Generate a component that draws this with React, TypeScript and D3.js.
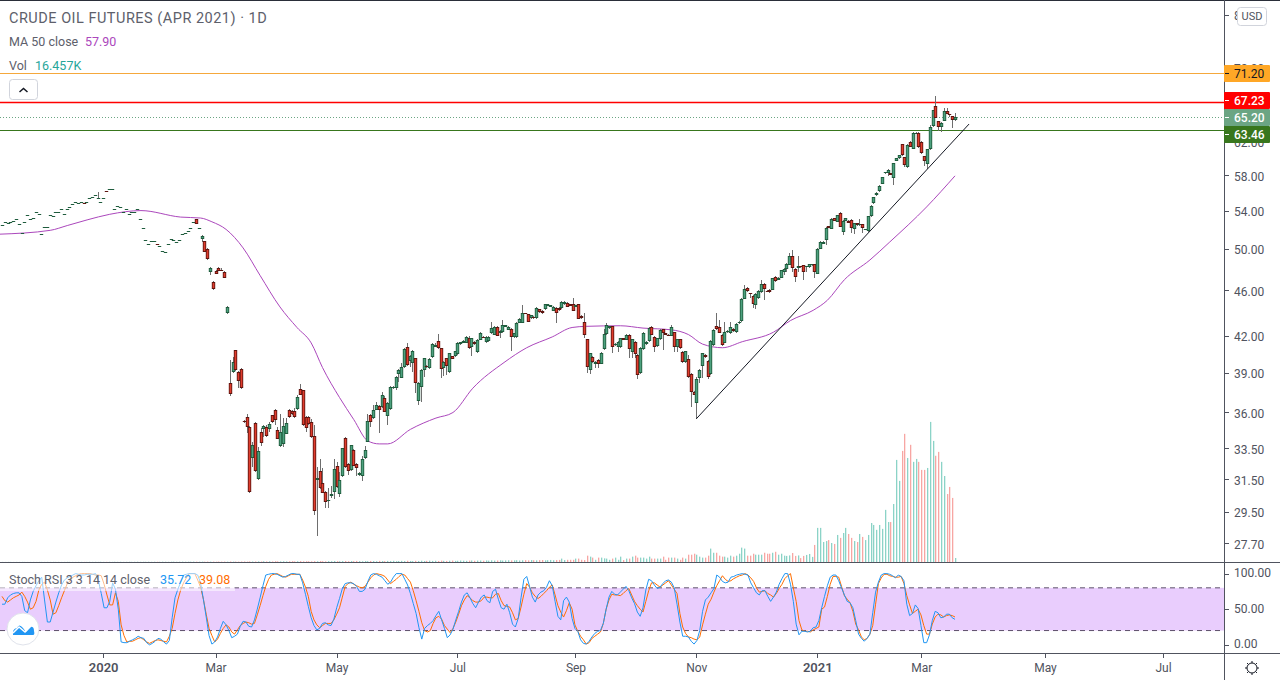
import React, { useRef, useEffect } from 'react';
import * as d3 from 'd3';

// daily candles, Apr 2021 crude contract
const opens = [
  52.45,52.75,52.65,52.75,52.9,53.1,52.55,51.65,52.75,53.55,
  53.1,53.2,53.8,53.65,51.5,52.25,52.25,53.55,53.45,53.8,
  53.8,54.2,53.65,54.15,54.35,54.7,54.9,54.8,54.9,54.85,
  54.9,55.35,55.45,55.7,55.35,54.9,55.35,56.2,56.4,56.4,
  54.2,54.55,54.35,53.8,54.15,53.65,53.9,53.9,54.2,53.1,
  52.1,50.9,50.5,50.8,50.8,50.45,50.3,49.8,49.7,50.5,
  51,50.9,50.7,50.9,51.5,51.65,51.85,52.15,52.75,53.1,
  52.15,51,50.8,50,47.75,46.75,47.85,48.1,47.95,47.75,
  43.95,38.2,39.05,40.8,39.05,39.3,35.4,35.7,35,32.85,
  35.25,31.5,34.6,34.85,35,34.85,35.8,36.2,34.75,33.65,
  33.8,34.5,36.2,36.1,36.1,36.25,37.75,37.65,35.7,35.7,
  35.35,34.35,31.45,32,31.25,30.7,30.15,30.45,30.7,32.35,
  30.55,31.7,34.2,32.45,32.05,33.4,32.45,31.75,31.7,32.85,
  33.95,35.85,35.6,36.2,36.5,36.4,37.05,35.75,36.25,37.8,
  37.85,38.9,38.6,39.45,41.05,39.9,39.75,40.15,36.85,37.9,
  39.2,39.55,39.35,40.25,41.1,41.55,40.95,39.35,40.15,39.05,
  40.3,40.3,40.45,41.3,41.4,41.4,41.85,41.05,41.5,40.65,
  41.65,41.9,41.45,41.55,42.2,42.1,42.75,42.2,42.3,42.75,
  42.5,42.6,41.9,41.9,43.1,43.1,43.95,43.85,43.5,43.65,
  43.5,44.3,44.15,44.3,44.6,44.5,44.15,44.4,44.4,44.4,
  44.75,44.85,44.75,44.75,44.5,44.75,43.7,43.2,41.7,39.2,
  40.25,39.7,40,39.7,40.9,42.15,42.65,42.8,41.2,41.05,
  41.05,41.8,41.65,42.1,40.65,41.5,40.4,38.95,40.9,41.3,
  41.55,42.75,41.9,41.15,41.7,42.55,42.2,42.1,42,42.3,
  41.05,41.7,40.65,39.85,40.1,38.9,37.5,36.7,38.6,39.5,
  40.4,39.95,38.9,41.2,42.85,42.75,42.1,41.4,42.3,42.2,
  42.6,42.3,43.05,43.25,45.25,46.25,45.75,45.5,44.7,45.3,
  45.85,46.6,45.95,46.05,46.05,47.3,47,47.2,47.75,48.05,
  48.45,49.3,48.05,48.15,48.3,48.4,48.2,48.2,48.4,48.5,
  47.55,50,50.5,50.9,52.35,52.05,53.2,52.8,53.7,51.7,
  52.9,52.9,53,52.05,52.65,52.45,52.55,51.95,51.8,53.4,
  54.8,55.7,56.15,57,58.2,58.2,58.2,57.65,59.65,60,
  61.7,60.1,58.95,62,61.15,63,63.15,62,60.25,59.3,
  61.05,64.05,66.65,64.65,63.85,64.65,65.95,65.55,65.3,64.75,
];
const closes = [
  52.45,52.75,52.65,52.75,52.9,53.1,52.55,51.65,52.75,53.55,
  53.1,53.2,53.8,53.65,51.5,52.25,52.25,53.55,53.45,53.8,
  53.8,54.2,53.65,54.15,54.35,54.7,54.9,54.8,54.9,54.8,
  54.9,55.35,55.45,55.7,55.35,54.9,55.35,56.15,56.4,56.4,
  54.2,54.55,54.35,53.8,54.15,53.65,53.9,53.9,54.2,53.1,
  52.1,50.9,50.5,50.8,50.8,50.4,50.3,49.8,49.7,50.5,
  51,50.9,50.7,50.9,51.5,51.65,51.85,52.15,52.75,52.55,
  52.15,51.3,49.7,49,48.1,46.15,47.55,47.85,47.85,47.2,
  44.5,37.35,39.85,39.2,38.35,37.8,35.3,35,30.7,33.75,
  32,33.3,33.85,35.05,34.35,35.2,35.3,35.45,34.15,34.6,
  35.05,35.25,35.65,35.9,35.65,37.15,37.3,35.1,34.9,35.15,
  34.25,29.55,31.55,30.95,30.65,30.05,30.2,30.55,32.15,31,
  31.45,33.5,32.25,32,33.7,32.35,32.2,31.9,32.8,33.4,
  35.4,35.3,36.2,36.55,36.2,37.3,36.05,36.7,37.9,37.9,
  38.65,39.2,39.45,40.9,39.6,40.35,40.75,38.2,38.2,39.2,
  40.15,39.45,40.1,41.3,41.2,40.95,39.3,39.85,39.55,40.55,
  40.1,40.7,41.4,41.45,41.55,41.9,40.95,41.8,41.3,41.65,
  42.25,41.85,41.9,41.9,42.65,42.75,42,42.4,42.9,42.9,
  42.75,41.9,42.2,43.1,43.45,43.95,43.9,43.2,43.75,43.5,
  44.4,44.05,43.95,44.75,44.75,44.65,44.5,43.95,44.2,44.95,
  44.95,44.5,44.6,44.15,44.65,43.45,43.5,42.1,39.45,40.55,
  39.85,39.85,39.7,40.6,42.15,42.9,42.8,41.05,41.3,41.5,
  41.8,41.65,42.1,40.9,41.7,40.45,38.8,41,42.25,41.5,
  42.65,42.1,41.05,41.8,42.5,42.25,42.1,42,42.75,41.05,
  41.7,40.95,39.85,40.7,38.65,37.5,37.3,38.5,39.2,40.55,
  40.25,38.65,41.55,42.5,42.55,42.25,41.2,42.35,42.4,42.75,
  42.4,43,43.2,45.25,46.15,45.95,45.7,44.8,45.7,45.95,
  46.6,46.1,45.9,45.85,47.15,46.85,47.2,47.9,48.05,48.55,
  49.25,48.1,47.3,48.3,48.2,47.75,48.3,48.5,48.5,47.75,
  50,50.7,50.7,52.15,52.15,53.1,52.9,53.5,52.25,52.9,
  53.2,52.7,52.15,52.65,52.45,52.55,52.15,52,53.4,54.55,
  55.45,55.95,56.75,57.75,58.35,58.6,58,59.4,60,60.35,
  60.35,59.15,61.65,61.4,63.15,63.15,61.3,60.6,59.65,61.05,
  63.85,66.1,65.05,63.9,64.4,65.95,65.55,65.5,64.8,65.2,
];
const highs = [
  52.45,52.75,52.65,52.75,52.9,53.1,52.55,51.65,52.75,53.55,
  53.1,53.2,53.8,53.65,51.5,52.25,52.25,53.55,53.45,53.8,
  53.8,54.2,53.65,54.15,54.35,54.7,54.9,54.8,54.9,54.85,
  54.9,55.35,55.45,55.7,56.05,54.9,55.35,56.2,56.4,56.4,
  54.2,54.55,54.35,53.8,54.15,53.65,53.9,53.9,54.2,53.1,
  52.1,50.9,50.5,50.8,50.8,50.45,50.3,49.8,49.7,50.5,
  51,50.9,50.7,50.9,51.5,51.65,51.85,52.15,52.75,53.1,
  52.15,51.4,50.85,50.05,48.25,46.85,47.95,48.2,48.1,47.8,
  44.6,40,40.25,40.85,39.1,39.35,35.45,35.9,35.05,33.9,
  35.3,33.6,34.9,35.1,35.1,35.35,35.85,36.25,35,35.9,
  35.6,35.6,36.25,36.15,36.35,37.3,38.1,37.7,35.75,35.75,
  35.5,35.1,32.25,32.8,32.2,30.75,30.95,31.05,32.8,32.6,
  31.95,33.55,34.25,32.5,33.75,33.45,32.5,31.95,33,33.65,
  35.9,35.9,36.55,36.8,36.55,37.5,37.2,36.75,37.95,37.95,
  38.7,39.25,39.75,40.95,41.4,40.4,40.8,40.2,38.25,39.25,
  40.2,39.6,40.15,41.35,41.4,42.15,41,39.9,40.2,40.6,
  40.35,40.75,41.45,41.5,41.6,41.95,42,41.85,41.55,41.7,
  42.3,41.95,41.95,41.95,43.2,42.8,42.8,42.45,43.35,42.95,
  42.8,42.65,42.25,43.15,43.5,44.65,44,43.9,43.8,43.7,
  44.45,44.35,44.2,44.8,44.8,44.7,44.55,44.45,44.45,45,
  45,44.9,44.8,45.3,44.7,44.8,43.75,43.95,41.75,40.6,
  40.3,39.9,40.05,40.65,42.55,43.1,42.85,42.85,41.35,41.55,
  41.85,41.85,42.15,42.15,41.75,41.55,40.45,41.05,42.3,41.55,
  42.7,42.8,41.95,41.85,42.55,42.6,42.25,42.15,42.9,42.35,
  41.75,41.75,40.7,40.75,40.4,38.95,37.55,38.65,39.25,40.6,
  40.45,40,41.6,42.55,43.95,43.35,42.15,43.2,42.45,43.2,
  42.65,43.05,43.25,45.3,46.5,46.3,45.8,45.55,45.75,46,
  47,46.65,46,46.1,47.2,47.35,47.25,47.95,48.1,48.6,
  49.6,49.9,48.1,49.3,48.35,48.45,48.35,48.55,48.55,48.55,
  50.05,50.75,50.75,52.2,52.4,53.15,53.25,53.55,53.9,52.95,
  53.25,52.95,53.05,52.7,52.7,53.1,52.6,52.05,53.45,54.6,
  55.5,56,56.8,57.8,58.4,58.65,58.25,59.45,60.05,60.4,
  61.75,60.15,61.7,62.05,63.2,63.2,63.25,62.05,60.3,61.1,
  64.1,66.15,68,64.7,64.45,66.3,66.4,65.6,65.35,65.7,
];
const lows = [
  52.45,52.75,52.65,52.75,52.9,53.1,52.55,51.65,52.75,53.55,
  53.1,53.2,53.8,53.65,51.5,52.25,52.25,53.55,53.45,53.8,
  53.8,54.2,53.65,54.15,54.35,54.7,54.9,54.8,54.9,54.8,
  54.9,55.35,55.45,55.7,55.35,54.9,55.35,56.15,56.4,56.4,
  54.2,54.55,54.35,53.8,54.15,53.65,53.9,53.9,54.2,53.1,
  52.1,50.9,50.5,50.8,50.8,50.4,50.3,49.8,49.7,50.5,
  51,50.9,50.7,50.9,51.5,51.65,51.85,52.15,52.75,52.55,
  52.15,50.7,49.65,48.9,47.4,46,47.5,47.8,47.8,47.15,
  43.9,37.2,39,39.15,37.8,37.75,35.25,34.55,30.65,32.25,
  31.95,31.45,33.65,34.3,34.3,34.6,35.25,35.1,34.1,33.6,
  33.6,34.45,35.6,35.85,35.6,36.2,37.25,35.05,34.6,35.1,
  34.2,29.3,28.1,30.9,30.6,29.7,29.7,30.3,30.25,30.95,
  30.4,31.65,32.2,31.75,32,32.3,31.7,31.7,31.4,32.8,
  33.9,35,35.55,36.15,34.55,36.35,36,35.1,36.2,37.75,
  37.7,38.3,38.55,39.4,39.55,39.45,39.05,37.45,36.55,36.8,
  38.65,39.4,39.3,40.2,41.05,40.9,38.6,38.75,38.8,39,
  40.05,40.25,40.4,41.25,41.35,41.35,40.9,40.3,41.25,40.6,
  41.6,41.8,41.4,41.5,42.15,42.05,41.95,41.8,42.25,42.7,
  42.45,40.7,41.85,41.85,43.05,43.05,43.85,43.15,43.45,43.45,
  43.45,44,43.9,44.25,44.55,44.45,44.1,43.1,44.15,44.35,
  44.7,44.45,44.55,44.1,44.45,43.4,43.45,41.85,38.95,38.9,
  39.8,39.4,39.35,39.65,40.85,42.1,42.6,40.55,41.15,40.65,
  41,41.6,41.6,40.15,40.15,40.15,38.5,38.9,40.85,41.25,
  41.5,42.05,40.65,41.1,41.65,40.8,42.05,41.95,41.95,40.65,
  40.65,40.9,39.8,39.8,38.6,36.4,37.25,35.55,38.2,38.6,
  40.2,38.5,38.85,41.15,42.5,42.2,41.15,41.35,42.25,42.15,
  42.35,42.25,43,43.2,45.2,45.9,45.3,44.4,44.3,45.25,
  45.8,45.1,45.85,45.8,46,46.8,46.95,47.15,47.4,47.7,
  48.4,47.75,46.75,47.75,48.15,46.95,47.75,48.15,48.35,47.2,
  47.5,49.95,50.45,50.4,52.1,52,52.85,52.75,52.2,51.4,
  52.85,52.65,51.6,51.5,52.4,52.4,51.6,51.9,51.75,53.35,
  54.75,55.65,56.1,56.95,58.15,57.9,57.95,56.9,59.6,59.95,
  60.3,58.9,58.8,61.35,61.1,62.95,61.25,60.55,59,58.7,
  61,63.9,65,63.3,63.2,64.6,65.5,65.1,63.8,64.7,
];
// thousands of contracts
const volumes = [
  0.4,0.3,0.5,0.4,0.3,0.5,0.4,0.6,0.4,0.3,
  0.4,0.5,0.4,0.6,0.5,0.4,0.6,0.5,0.7,0.5,0.6,0.4,0.5,0.8,0.6,0.5,0.4,0.7,0.6,0.5,
  0.5,0.8,0.6,0.7,0.5,0.9,0.6,0.7,0.8,0.6,1,0.7,0.9,0.6,0.8,1,0.7,0.9,1.2,0.8,
  1,0.9,1.2,0.8,1.1,1,0.9,1.3,1.1,0.9,1.2,1.4,1,1.2,1.5,1.1,1.3,1.2,1.6,1.4,
  1.2,1.5,1.3,1.7,1.4,1.6,1.3,1.8,1.5,1.7,1.4,2,1.6,1.8,1.5,2,2.2,1.7,2.4,2,
  2.2,2.6,2.1,3,2.4,2.8,2.2,3.2,2.6,2.4,3,2.5,2.8,3.4,2.6,3,3.6,2.8,3.2,3,
  2.6,3.4,3,3.8,3.2,2.8,3.5,3.2,4,3.4,3,3.6,4.2,3.2,3.8,3.4,4.4,3.6,3,4,
  3.4,4.2,3.8,3.2,4.6,4,3.6,4.4,3.8,4.8,3.4,4,4.6,3.8,5,4.2,3.6,4.8,4.2,5.2,
  4,4.6,5.4,4.4,5,4.2,5.6,4.8,4.4,5.2,5.8,4.6,5,6,5.4,4.8,5.6,6.2,5,5.8,
  6,5.2,6.4,5.6,6.8,5.8,6.2,7,6,6.6,7.2,6.4,6.8,7.4,6.2,7,7.6,6.6,8,7.2,
  6.8,7.8,8.2,7,7.6,8.4,7.4,8,8.6,
  14,8,9,9,9,14,14,9,8,26,
  22,18,9,18,18,15,14,9,14,18,
  9,22,8,14,14,22,26,18,18,18,
  14,22,14,14,14,14,22,9,18,18,
  18,14,9,18,14,30,30,34,30,22,
  18,18,26,55,38,38,26,22,22,18,
  26,22,26,34,59,55,26,26,34,30,
  30,30,38,34,34,38,42,30,34,26,
  25,27,37,25,27,16,25,29,33,21,
  70,140,140,82,86,90,78,74,111,99,
  119,140,115,99,86,82,115,103,90,111,
  160,152,132,152,136,214,164,164,238,419,
  333,456,526,427,481,411,423,411,378,378,
  386,575,497,436,452,411,353,279,308,263,
  16.457,
];

const maBars = [-1,17,23,30,38,49,63,70,74,79,85,91,98,104,109,113,119,124,129,133,136,144,153,159,166,177,185,194,201,206,218,226,236,242,247,254,261,272,278,286,291,297,306,313,326,336];
const maValues = [51.5,51.9,52.4,53,53.6,54,53.3,53.2,52.8,52,50.1,47.4,44.5,42.7,41.4,39.4,37.1,35.5,34,33.8,33.8,34.8,35.6,36,37.8,39.8,41,41.9,42.7,42.8,42.85,42.65,42.5,42.1,41.3,41,41.5,42.3,43.3,44.2,45.1,47,48.9,50.7,54.4,57.9];

const stochK = [
  57,57,66,70,72,73,73,68,48,45,63,75,83,90,95,63,32,32,46,60,
  73,84,91,94,96,98,100,99,98,98,99,99,99,100,90,72,52,52,61,87,
  78,50,4,3,3,5,7,9,12,10,9,3,0,2,5,9,8,4,1,6,
  38,66,78,88,98,99,100,100,100,98,87,64,39,13,1,4,11,23,33,28,
  20,10,12,15,26,33,32,26,25,35,50,66,83,98,99,100,100,99,97,95,
  96,98,100,100,99,99,87,71,54,38,27,21,23,30,31,28,27,36,52,65,
  79,86,87,87,86,82,75,75,78,89,98,100,99,97,95,90,85,88,95,100,
  100,100,92,84,72,58,44,24,8,23,27,30,34,41,47,35,23,10,14,22,
  35,47,60,70,73,66,58,52,60,67,70,62,59,75,78,64,52,50,57,45,
  29,25,37,66,92,96,82,67,60,70,74,76,81,90,83,61,40,35,62,67,
  60,37,23,19,7,2,1,5,11,16,19,20,30,50,67,75,71,70,74,78,
  82,76,66,58,46,40,52,77,92,90,84,79,81,86,90,91,88,80,57,32,
  12,12,11,5,1,6,20,47,63,67,73,79,98,95,89,87,88,95,96,98,
  99,100,99,98,87,80,73,70,76,76,68,61,67,74,85,93,100,100,85,61,
  29,14,19,19,18,19,24,25,34,52,68,83,95,98,98,90,80,70,61,59,
  52,34,15,9,5,9,15,45,74,88,98,100,100,99,97,94,98,96,90,57,
  41,44,56,51,27,3,3,14,34,47,45,38,39,43,43,38,35.72,
];
const stochD = [
  68,62,60,63,66,68,70,74,68,60,50,52,61,77,85,88,77,63,43,45,
  55,66,76,86,90,95,97,99,100,100,100,100,99,98,98,97,85,70,56,56,
  73,61,28,13,4,5,5,7,9,10,7,4,2,4,6,7,6,5,4,12,
  23,44,63,77,87,94,100,100,100,91,81,64,43,23,13,4,8,16,23,28,
  25,18,15,21,27,30,32,31,29,30,42,55,69,82,92,98,99,100,98,96,
  95,97,99,99,99,99,91,81,68,47,35,28,24,27,30,30,30,35,43,52,
  67,82,86,88,85,83,81,80,82,88,94,98,100,99,98,96,91,86,89,92,
  96,99,98,93,88,76,62,47,31,20,18,20,30,38,40,36,27,22,17,23,
  32,43,55,63,69,66,62,60,60,62,67,67,66,66,71,72,62,55,54,53,
  45,35,37,53,71,86,81,73,68,65,68,72,76,81,84,70,55,46,39,48,
  59,50,28,19,12,7,1,3,9,12,15,18,30,50,63,71,70,70,69,72,
  76,79,70,61,55,50,46,61,76,87,87,84,81,84,87,90,84,78,72,44,
  25,16,11,10,8,7,11,28,43,57,64,74,83,90,97,92,89,90,93,95,
  97,98,100,98,94,89,80,74,75,76,72,70,67,72,79,85,93,97,100,80,
  61,34,21,19,19,18,21,23,25,50,53,68,85,96,96,95,82,69,64,59,
  47,29,21,11,7,9,15,27,57,86,94,99,99,97,96,95,95,96,86,69,
  56,44,47,50,42,27,15,15,29,39,43,42,39,41,42,41,39.08,
];

const priceTicks = [80, 72, 62, 58, 54, 50, 46, 42, 39, 36, 33.5, 31.5, 29.5, 27.7];
const stochTicks = [100, 50, 0];
const timeBars = [36, 76, 119, 162, 204, 247, 290, 327, 371, 413];
const timeLabels = ['2020', 'Mar', 'May', 'Jul', 'Sep', 'Nov', '2021', 'Mar', 'May', 'Jul'];
const trendBars = [247, 344];
const trendPrices = [35.55, 64.25];
const levels = [71.2, 67.23, 65.2, 63.46];
const levelColors = ['#f5a83c', '#ff0000', '#6ba583', '#38761d'];
const tagColors = ['#ffa726', '#ff0000', '#6ba583', '#38761d'];
const tagText = ['#131722', '#ffffff', '#ffffff', '#ffffff'];

const FONT = 'Roboto, sans-serif';
const AXIS = '#50535e';

const App: React.FC = () => {
  const ref = useRef<SVGSVGElement>(null);

  useEffect(() => {
    const svg = d3.select(ref.current);
    svg.selectAll('*').remove();

    const plotRight = 1224;
    const x = d3.scaleLinear().domain([0, opens.length - 1]).range([2, 955]);
    const lineX = d3.scaleLinear().domain([0, stochK.length - 1]).range([2, 955]);
    const y = d3.scaleLog().domain([27.7, 58]).range([543, 175]);
    const yVol = d3.scaleLinear().domain([0, 575]).range([562, 421.9]);
    const yStoch = d3.scaleLinear().domain([0, 100]).range([644.8, 573.6]);

    const bars = d3.range(opens.length);
    const levelY = (v: number) => Math.round(y(v) + 0.2) + 0.5;

    // level lines
    levels.forEach((v, i) => {
      svg.append('line')
        .attr('x1', 0).attr('x2', plotRight)
        .attr('y1', levelY(v)).attr('y2', levelY(v))
        .attr('stroke', levelColors[i])
        .attr('stroke-width', i === 1 ? 1.6 : 1)
        .attr('stroke-dasharray', i === 2 ? '1,2' : null);
    });

    // volume
    svg.append('g').selectAll('rect').data(bars).enter().append('rect')
      .attr('x', i => Math.round(x(i)))
      .attr('width', 1.3)
      .attr('y', i => yVol(volumes[i]))
      .attr('height', i => 562 - yVol(volumes[i]))
      .attr('fill', i => (closes[i] >= opens[i] ? '#8bd3c7' : '#f7a6a3'));

    // ma
    const maLine = d3.line<number>()
      .x(i => lineX(maBars[i]))
      .y(i => y(maValues[i]))
      .curve(d3.curveMonotoneX);
    svg.append('path').attr('d', maLine(d3.range(maBars.length)))
      .attr('fill', 'none').attr('stroke', '#ab47bc').attr('stroke-width', 1);

    // candles
    const candles = svg.append('g');
    bars.forEach(i => {
      const cx = Math.round(x(i));
      const up = closes[i] >= opens[i];
      const top = Math.round(y(Math.max(opens[i], closes[i])));
      const bottom = Math.round(y(Math.min(opens[i], closes[i])));
      const hi = Math.round(y(highs[i]));
      const lo = Math.round(y(lows[i]));
      if (lo > hi) {
        candles.append('rect').attr('x', cx).attr('width', 1)
          .attr('y', hi).attr('height', lo - hi).attr('fill', '#6e6e6e');
      }
      const h = Math.max(1, bottom - top);
      candles.append('rect').attr('x', cx - 1.2).attr('width', 3.4)
        .attr('y', top).attr('height', h)
        .attr('fill', up ? '#1f5c3d' : '#5e1510');
      if (h > 2) {
        candles.append('rect').attr('x', cx - 0.35).attr('width', 1.7)
          .attr('y', top + 1).attr('height', h - 2)
          .attr('fill', up ? '#4da17f' : '#e03c2d');
      }
    });

    // trend line
    svg.append('line')
      .attr('x1', x(trendBars[0])).attr('y1', y(trendPrices[0]))
      .attr('x2', x(trendBars[1])).attr('y2', y(trendPrices[1]))
      .attr('stroke', '#131722').attr('stroke-width', 1);

    // stoch pane
    svg.append('rect')
      .attr('x', 0).attr('width', plotRight)
      .attr('y', yStoch(80)).attr('height', yStoch(20) - yStoch(80))
      .attr('fill', '#e9cdfd');
    [80, 20].forEach(v => {
      svg.append('line')
        .attr('x1', 0).attr('x2', plotRight)
        .attr('y1', yStoch(v)).attr('y2', yStoch(v))
        .attr('stroke', '#5d4f6b').attr('stroke-dasharray', '5,4');
    });
    const stochLine = (vals: number[]) => d3.line<number>()
      .x((_, i) => lineX(i))
      .y(d => yStoch(d))(vals);
    svg.append('path').attr('d', stochLine(stochD))
      .attr('fill', 'none').attr('stroke', '#ff6d00').attr('stroke-width', 1);
    svg.append('path').attr('d', stochLine(stochK))
      .attr('fill', 'none').attr('stroke', '#2196f3').attr('stroke-width', 1);

    // frame
    const frame = svg.append('g').attr('stroke', AXIS).attr('shape-rendering', 'crispEdges');
    frame.append('line').attr('x1', 0).attr('x2', 1280).attr('y1', 0.5).attr('y2', 0.5).attr('stroke', '#2a2e39');
    frame.append('line').attr('x1', 0).attr('x2', 1280).attr('y1', 562.5).attr('y2', 562.5);
    frame.append('line').attr('x1', 0).attr('x2', 1280).attr('y1', 653.5).attr('y2', 653.5);
    frame.append('line').attr('x1', plotRight + 0.5).attr('x2', plotRight + 0.5).attr('y1', 0).attr('y2', 680);

    // axes
    const styleAxis = (g: any) => {
      g.select('.domain').remove();
      g.selectAll('line').attr('stroke', AXIS).attr('shape-rendering', 'crispEdges');
      g.selectAll('text').attr('fill', AXIS).attr('font-family', FONT).attr('font-size', 12);
    };
    const priceAxis = svg.append('g').attr('transform', `translate(${plotRight + 1},0)`)
      .call(d3.axisRight(y).tickValues(priceTicks).tickFormat(d3.format('.2f') as any).tickSize(4).tickPadding(5) as any);
    styleAxis(priceAxis);
    priceAxis.selectAll('text').attr('dy', '0.42em');
    const stochAxis = svg.append('g').attr('transform', `translate(${plotRight + 1},0)`)
      .call(d3.axisRight(yStoch).tickValues(stochTicks).tickFormat(d3.format('.2f') as any).tickSize(4).tickPadding(5) as any);
    styleAxis(stochAxis);
    stochAxis.selectAll('text').attr('dy', '0.25em');
    const timeAxis = svg.append('g').attr('transform', 'translate(0,654)')
      .call(d3.axisBottom(x).tickValues(timeBars).tickFormat((_, i) => timeLabels[i]).tickSize(4).tickPadding(5) as any);
    styleAxis(timeAxis);
    timeAxis.selectAll('text')
      .attr('font-size', (_: any, i: number) => (/^\d/.test(timeLabels[i]) ? 13 : 12))
      .attr('font-weight', (_: any, i: number) => (/^\d/.test(timeLabels[i]) ? 600 : 400));

    // value tags
    levels.forEach((v, i) => {
      const c = i === 2 ? 117.5 : levelY(v) + (i === 1 ? -2 : i === 3 ? 4 : 0);
      svg.append('rect').attr('x', plotRight).attr('y', c - 8.5).attr('width', 46).attr('height', 17)
        .attr('rx', 1).attr('fill', tagColors[i]);
      svg.append('line').attr('x1', plotRight + 1).attr('x2', plotRight + 5)
        .attr('y1', c).attr('y2', c).attr('stroke', tagText[i]);
      svg.append('text').attr('x', plotRight + 10).attr('y', c + 4.3)
        .attr('fill', tagText[i]).attr('font-family', FONT).attr('font-size', 12)
        .attr('font-weight', i === 0 ? 400 : 500)
        .text(d3.format('.2f')(v));
    });

    // usd button
    svg.append('rect').attr('x', 1237.5).attr('y', 7.5).attr('width', 29).attr('height', 18).attr('rx', 3)
      .attr('fill', '#fff').attr('stroke', '#d1d4dc');
    svg.append('text').attr('x', 1252).attr('y', 20).attr('text-anchor', 'middle')
      .attr('fill', AXIS).attr('font-family', FONT).attr('font-size', 11).text('USD');

    // legend
    const label = (tx: number, ty: number, s: string, fill: string, size = 13) =>
      svg.append('text').attr('x', tx).attr('y', ty).attr('fill', fill)
        .attr('font-family', FONT).attr('font-size', size).text(s);
    label(9, 23, 'CRUDE OIL FUTURES (APR 2021) · 1D', '#5d606b', 14.5).attr('letter-spacing', 0.5);
    label(9, 46, 'MA 50 close', '#5d606b', 12.5);
    label(85, 46, '57.90', '#ab47bc', 12.5);
    label(9, 70, 'Vol', '#5d606b', 12.5);
    label(35, 70, '16.457K', '#26a69a', 12.5);

    svg.append('rect').attr('x', 9.5).attr('y', 79.5).attr('width', 28).attr('height', 20).attr('rx', 3)
      .attr('fill', '#fff').attr('stroke', '#d1d4dc');
    svg.append('path').attr('d', 'M19.5 92 L23.5 88.5 L27.5 92')
      .attr('fill', 'none').attr('stroke', '#131722').attr('stroke-width', 1.5);

    svg.append('rect').attr('x', 0).attr('y', 571).attr('width', 235).attr('height', 20)
      .attr('fill', '#fff').attr('fill-opacity', 0.55);
    label(9, 584, 'Stoch RSI 3 3 14 14 close', '#5d606b', 12.5);
    label(160, 584, '35.72', '#2196f3', 12.5);
    label(199, 584, '39.08', '#ff6d00', 12.5);

    // logo
    svg.append('circle').attr('cx', 23).attr('cy', 629).attr('r', 16)
      .attr('fill', '#fff').attr('stroke', '#e0e3eb');
    svg.append('path')
      .attr('d', 'M13 635 Q12 629 17 628 Q19 623 23 628 L26 632 L30 627 Q34 626 34 631 Q35 635 33 635 Z')
      .attr('fill', '#2196f3');
    svg.append('path').attr('d', 'M13 633 L19 627 L25 632 L31 626')
      .attr('fill', 'none').attr('stroke', '#fff').attr('stroke-width', 1.5);

    // gear
    const gear = svg.append('g').attr('transform', 'translate(1252,668)')
      .attr('stroke', '#131722').attr('fill', 'none');
    gear.append('circle').attr('r', 5);
    d3.range(8).forEach(k => {
      const a = (k * Math.PI) / 4;
      gear.append('line')
        .attr('x1', 5 * Math.cos(a)).attr('y1', 5 * Math.sin(a))
        .attr('x2', 7 * Math.cos(a)).attr('y2', 7 * Math.sin(a));
    });
  }, []);

  return (
    <svg
      ref={ref}
      width={1280}
      height={680}
      style={{ position: 'fixed', left: 0, top: 0, background: '#fff' }}
    />
  );
};

export default App;
